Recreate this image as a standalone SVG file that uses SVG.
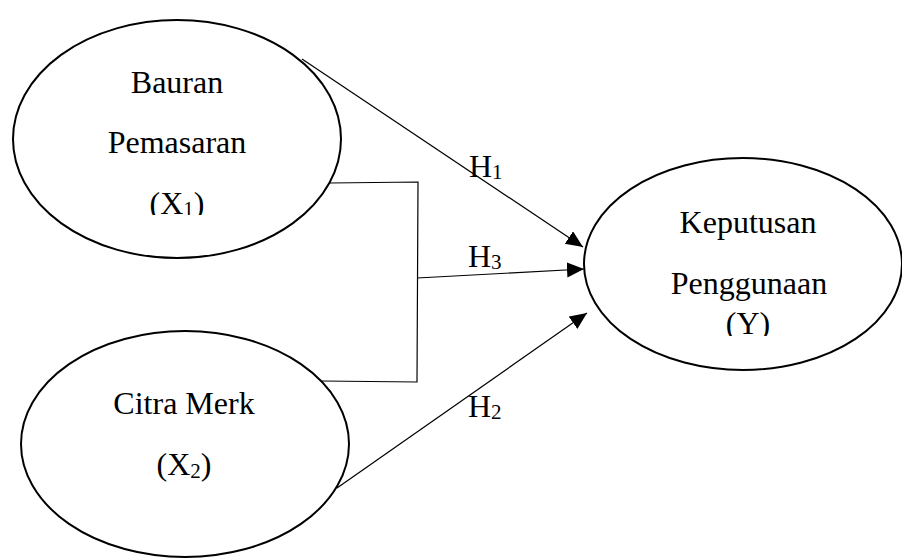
<svg xmlns="http://www.w3.org/2000/svg" width="902" height="558" viewBox="0 0 902 558">
  <style>
    .node { fill: #ffffff; stroke: #000000; stroke-width: 2; }
    .label { font-family: "Liberation Serif", "Times New Roman", serif; font-size: 32px; fill: #000000; text-anchor: middle; }
    .hyp { font-family: "Liberation Serif", "Times New Roman", serif; font-size: 32px; fill: #000000; }
    .sub { font-size: 21px; }
    .wire { fill: none; stroke: #000000; stroke-width: 1.2; }
  </style>
  <defs>
    <marker id="arrow" markerUnits="userSpaceOnUse" markerWidth="18" markerHeight="16" refX="17" refY="7.5" orient="auto">
      <path d="M0,0 L17,7.5 L0,15 Z" fill="#000000"/>
    </marker>
    <clipPath id="clipX1"><rect x="0" y="0" width="902" height="215"/></clipPath>
    <clipPath id="clipY"><rect x="0" y="0" width="902" height="336"/></clipPath>
  </defs>

  <g id="connectors">
    <!-- H1: Bauran Pemasaran -> Keputusan Penggunaan -->
    <line class="wire" x1="302" y1="59" x2="583" y2="247" marker-end="url(#arrow)"/>
    <!-- joint bracket of X1 and X2 -->
    <polyline class="wire" points="330,183 418,182 417,382 322,381"/>
    <!-- H3: joint effect -->
    <line class="wire" x1="417" y1="278" x2="584" y2="269" marker-end="url(#arrow)"/>
    <!-- H2: Citra Merk -> Keputusan Penggunaan -->
    <line class="wire" x1="337" y1="488" x2="587" y2="313" marker-end="url(#arrow)"/>
  </g>

  <g id="node-x1">
    <ellipse class="node" cx="177" cy="139" rx="164" ry="119"/>
    <text class="label" x="177" y="93">Bauran</text>
    <text class="label" x="177" y="153">Pemasaran</text>
    <text class="label" x="177" y="214" clip-path="url(#clipX1)">(X<tspan class="sub" dy="2">1</tspan><tspan dy="-2">)</tspan></text>
  </g>

  <g id="node-x2">
    <ellipse class="node" cx="185" cy="444" rx="164" ry="113"/>
    <text class="label" x="184" y="414">Citra Merk</text>
    <text class="label" x="184" y="475">(X<tspan class="sub" dy="3">2</tspan><tspan dy="-3">)</tspan></text>
  </g>

  <g id="node-y">
    <ellipse class="node" cx="743" cy="264" rx="159" ry="106"/>
    <text class="label" x="748" y="233">Keputusan</text>
    <text class="label" x="749" y="294">Penggunaan</text>
    <text class="label" x="748" y="334" clip-path="url(#clipY)">(Y)</text>
  </g>

  <g id="labels">
    <text class="hyp" x="469" y="177">H<tspan class="sub" dy="2">1</tspan></text>
    <text class="hyp" x="468" y="267">H<tspan class="sub" dy="2">3</tspan></text>
    <text class="hyp" x="468" y="417">H<tspan class="sub" dy="2">2</tspan></text>
  </g>
</svg>
